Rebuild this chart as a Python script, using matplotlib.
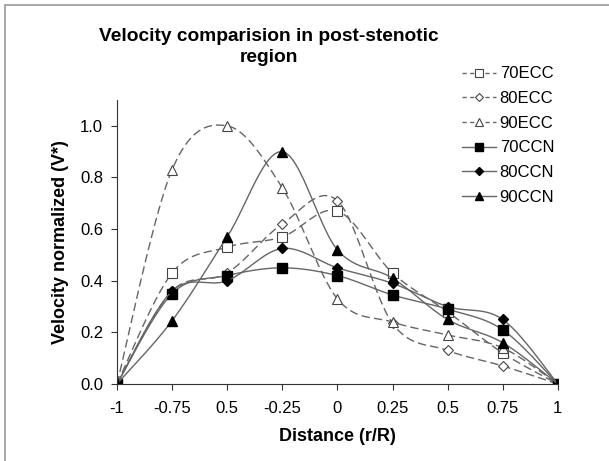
import numpy as np
import matplotlib
matplotlib.use("Agg")
import matplotlib.pyplot as plt
from matplotlib.patches import Rectangle

plt.rcParams['font.family'] = ['Liberation Sans', 'DejaVu Sans']

# tick labels as printed on the original chart
x_labels = ['-1', '-0.75', '0.5', '-0.25', '0', '0.25', '0.5', '0.75', '1']

ecc70 = [0, 0.43, 0.53, 0.57, 0.67, 0.43, 0.28, 0.12, 0]
ecc80 = [0, 0.36, 0.43, 0.62, 0.71, 0.235, 0.13, 0.07, 0]
ecc90 = [0, 0.83, 1.00, 0.76, 0.33, 0.24, 0.19, 0.14, 0]
ccn70 = [0, 0.35, 0.42, 0.45, 0.42, 0.345, 0.29, 0.21, 0]
ccn80 = [0, 0.36, 0.40, 0.525, 0.45, 0.39, 0.30, 0.25, 0]
ccn90 = [0, 0.245, 0.57, 0.90, 0.52, 0.41, 0.25, 0.16, 0]

series = [
    ('70ECC', ecc70, 's', 'none', '--'),
    ('80ECC', ecc80, 'D', 'none', '--'),
    ('90ECC', ecc90, '^', 'none', '--'),
    ('70CCN', ccn70, 's', 'black', '-'),
    ('80CCN', ccn80, 'D', 'black', '-'),
    ('90CCN', ccn90, '^', 'black', '-'),
]
msizes = {'s': 6.5, 'D': 5, '^': 6.5}


def smooth(x, y, n=30):
    # excel-like smoothed line: cubic bezier through the points
    x = np.asarray(x, float)
    y = np.asarray(y, float)
    px, py = [], []
    t = np.linspace(0, 1, n)
    for i in range(len(x) - 1):
        x0, y0 = x[max(i - 1, 0)], y[max(i - 1, 0)]
        x3, y3 = x[min(i + 2, len(x) - 1)], y[min(i + 2, len(x) - 1)]
        c1x = x[i] + (x[i + 1] - x0) / 6
        c1y = y[i] + (y[i + 1] - y0) / 6
        c2x = x[i + 1] - (x3 - x[i]) / 6
        c2y = y[i + 1] - (y3 - y[i]) / 6
        bx = (1 - t)**3 * x[i] + 3 * (1 - t)**2 * t * c1x + 3 * (1 - t) * t**2 * c2x + t**3 * x[i + 1]
        by = (1 - t)**3 * y[i] + 3 * (1 - t)**2 * t * c1y + 3 * (1 - t) * t**2 * c2y + t**3 * y[i + 1]
        px.extend(bx)
        py.extend(by)
    return px, py


fig = plt.figure(figsize=(6.09, 4.61), dpi=100)
fig.patches.append(Rectangle((0.009, -0.1), 1.2, 1.09, transform=fig.transFigure,
                             fill=False, edgecolor='#999999', lw=1.2))
ax = fig.add_axes([0.192, 0.167, 0.724, 0.616])

x = np.arange(len(x_labels))
handles = []
for name, vals, mk, fc, ls in series:
    sx, sy = smooth(x, vals)
    ms = msizes[mk]
    if ls == '--':
        ax.plot(sx, sy, color='#666666', lw=1.0, dashes=(6, 3))
        ax.plot(x, vals, linestyle='none', marker=mk, ms=ms, mfc='white', mec='#444444', mew=0.8)
        h, = ax.plot([], [], color='#666666', lw=1.0, dashes=(3, 2.5), marker=mk, ms=ms - 1,
                     mfc='white', mec='#444444', mew=0.8, label=name)
    else:
        ax.plot(sx, sy, color='#666666', lw=1.0)
        ax.plot(x, vals, linestyle='none', marker=mk, ms=ms, mfc='black', mec='black')
        h, = ax.plot([], [], color='#666666', lw=1.0, marker=mk, ms=ms - 1,
                     mfc='black', mec='black', label=name)
    handles.append(h)

ax.set_xlim(0, 8)
ax.set_ylim(0, 1.1)
ax.set_xticks(x)
ax.set_xticklabels(x_labels)
ax.set_yticks(np.arange(0, 1.01, 0.2))
ax.set_yticklabels(['%.1f' % v for v in np.arange(0, 1.01, 0.2)])
ax.tick_params(labelsize=12, length=4, color='#333333', pad=6)
ax.tick_params(axis='x', pad=8)
for s in ['top', 'right']:
    ax.spines[s].set_visible(False)
for s in ['left', 'bottom']:
    ax.spines[s].set_color('#333333')

ax.set_xlabel('Distance (r/R)', fontsize=13, fontweight='bold', labelpad=9)
ax.set_ylabel('Velocity normalized (V*)', fontsize=13, fontweight='bold', labelpad=8)
fig.text(0.441, 0.94, 'Velocity comparision in post-stenotic\nregion', ha='center', va='top',
         fontsize=13.8, fontweight='bold', linespacing=1.35)

fig.legend(handles=handles, loc='upper left', bbox_to_anchor=(0.759, 0.856),
           frameon=False, fontsize=12, handlelength=2.0, labelspacing=0.58,
           handletextpad=0.25, borderaxespad=0, borderpad=0)

fig.savefig('out.png', dpi=100)
